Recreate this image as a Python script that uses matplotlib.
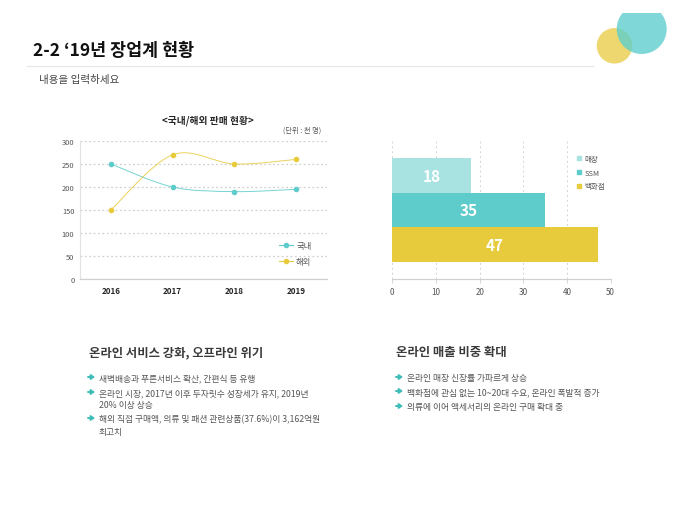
import matplotlib
matplotlib.use("Agg")
import matplotlib.pyplot as plt
from matplotlib.patches import Ellipse, PathPatch, Rectangle
from matplotlib.path import Path
from matplotlib.lines import Line2D

plt.rcParams['font.family'] = ['Noto Sans CJK KR', 'DejaVu Sans']

W, H = 680, 510
TEAL = '#5ecccb'
YELLOW = '#e8cb3c'
LIGHT = '#a8e2e1'
DARK = '#262626'
MID = '#555555'

years = ['2016', '2017', '2018', '2019']
domestic = [250, 200, 190, 195]
overseas = [150, 270, 250, 260]
line_ticks = [0, 50, 100, 150, 200, 250, 300]

bar_names = ['매장', 'SSM', '백화점']
bar_values = [18, 35, 47]
bar_ticks = [0, 10, 20, 30, 40, 50]

left_heading = '온라인 서비스 강화, 오프라인 위기'
left_bullets = [['새벽배송과 푸른서비스 확산, 간편식 등 유행'],
                ['온라인 시장, 2017년 이후 두자릿수 성장세가 유지, 2019년', '20% 이상 상승'],
                ['해외 직접 구매액, 의류 및 패션 관련상품(37.6%)이 3,162억원', '최고치']]
right_heading = '온라인 매출 비중 확대'
right_bullets = [['온라인 매장 신장률 가파르게 상승'],
                 ['백화점에 관심 없는 10~20대 수요, 온라인 폭발적 증가'],
                 ['의류에 이어 액세서리의 온라인 구매 확대 중']]


def px_axes(fig, x0, y0, x1, y1):
    return fig.add_axes([x0 / W, 1 - y1 / H, (x1 - x0) / W, (y1 - y0) / H])


def smooth(ax, xs, ys, color):
    # Catmull-Rom segments drawn as Bezier curves, as a spreadsheet's smoothed line
    verts = [(xs[0], ys[0])]
    codes = [Path.MOVETO]
    n = len(xs)
    for i in range(n - 1):
        p0 = i - 1 if i > 0 else i
        p3 = i + 2 if i + 2 < n else i + 1
        k = 1 / 6
        verts += [(xs[i] + (xs[i + 1] - xs[p0]) * k, ys[i] + (ys[i + 1] - ys[p0]) * k),
                  (xs[i + 1] - (xs[p3] - xs[i]) * k, ys[i + 1] - (ys[p3] - ys[i]) * k),
                  (xs[i + 1], ys[i + 1])]
        codes += [Path.CURVE4] * 3
    ax.add_patch(PathPatch(Path(verts, codes), fill=False, ec=color, lw=0.7, alpha=0.85, zorder=3))
    ax.plot(xs, ys, ls='none', marker='o', ms=3.0, color=color, zorder=4)


fig = plt.figure(figsize=(W / 100, H / 100), dpi=100, facecolor='white')

# page layer in pixel coordinates
bg = fig.add_axes([0, 0, 1, 1])
bg.set_xlim(0, W)
bg.set_ylim(H, 0)
bg.axis('off')
bg.add_patch(Ellipse((614.5, 46.8), 35.5, 35.5, fc='#eed76f', ec='none', zorder=1))
bg.add_patch(Ellipse((641.7, 30), 50, 50, fc='#5fcfcd', ec='none', alpha=0.8, zorder=2))
# the decoration is cut off flat at its top edge
bg.add_patch(Rectangle((600, 0), 80, 14, fc='white', ec='none', zorder=3))
bg.plot([27, 593], [66.5, 66.5], color='#e4e6ec', lw=0.8)
bg.text(33, 51.5, '2-2 ‘19년 장업계 현황', fontsize=12.5, fontweight='bold', color='#111111', va='center')
bg.text(39, 80.5, '내용을 입력하세요', fontsize=7.6, color='#444444', va='center')
bg.text(208, 121, '<국내/해외 판매 현황>', fontsize=7.0, fontweight='bold', color=DARK, ha='center', va='center')
bg.text(321, 130.5, '(단위 : 천 명)', fontsize=5.2, color=MID, ha='right', va='center')


def block(x_head, heading, x_arrow, x_text, rows, ys):
    bg.text(x_head, 353, heading, fontsize=8.9, fontweight='bold', color='#3a3a3a', va='center')
    i = 0
    for lines in rows:
        for j, line in enumerate(lines):
            if j == 0:
                bg.annotate('', xy=(x_arrow + 7, ys[i]), xytext=(x_arrow, ys[i]),
                            arrowprops=dict(arrowstyle='-|>,head_width=0.14,head_length=0.2',
                                            color='#3fbdb9', lw=1.4, shrinkA=0, shrinkB=0))
            bg.text(x_text, ys[i] + 0.5, line, fontsize=6.3, color=MID, va='center')
            i += 1


block(89, left_heading, 88, 99, left_bullets, [378, 393, 405, 419, 432])
block(396, right_heading, 396, 407, right_bullets, [378, 392, 407])

# line chart
ax = px_axes(fig, 80, 142, 327, 280)
ax.patch.set_alpha(0)
pos = list(range(len(years)))
ax.set_xlim(-0.5, 3.5)
ax.set_ylim(0, 300)
ax.yaxis.grid(True, ls=(0, (1.5, 2)), color='#d0d0d0', lw=0.9)
ax.set_axisbelow(True)
smooth(ax, pos, domestic, TEAL)
smooth(ax, pos, overseas, YELLOW)
ax.set_xticks(pos, years, fontsize=5.8, fontweight='bold', color=DARK)
ax.set_yticks(line_ticks, [str(t) for t in line_ticks], fontsize=5.4, color=MID)
ax.tick_params(length=0)
ax.tick_params(axis='y', pad=4)
ax.tick_params(axis='x', pad=5)
for s in ('top', 'right'):
    ax.spines[s].set_visible(False)
ax.spines['left'].set_color('#e2e2e2')
ax.spines['left'].set_linewidth(0.8)
ax.spines['bottom'].set_color('#d0d0d0')
ax.spines['bottom'].set_linewidth(0.9)
handles = [Line2D([], [], color=TEAL, lw=0.8, marker='o', ms=3.0),
           Line2D([], [], color=YELLOW, lw=0.8, marker='o', ms=3.0)]
ax.legend(handles, ['국내', '해외'], loc='center left',
          bbox_to_anchor=(279 / W, 1 - 254.5 / H), bbox_transform=fig.transFigure,
          frameon=False, fontsize=6, labelcolor=MID, labelspacing=0.8,
          handlelength=1.7, handletextpad=0.35, borderpad=0, borderaxespad=0)

# bar chart
bx = px_axes(fig, 392.3, 141.8, 610.7, 279.8)
bx.patch.set_alpha(0)
colors = [LIGHT, TEAL, YELLOW]
ypos = list(range(len(bar_names)))
bars = bx.barh(ypos, bar_values, height=1.0, color=colors, edgecolor='none', zorder=3)
bx.set_xlim(0, 50)
bx.set_ylim(3, -1)
bx.xaxis.grid(True, ls=(0, (2, 3)), color='#d4d4d4', lw=0.7)
bx.set_axisbelow(True)
for b, v in zip(bars, bar_values):
    bx.text(v / 2, b.get_y() + b.get_height() / 2 + 0.02, str(v), color='white', fontsize=11,
            fontweight='bold', ha='center', va='center', zorder=4)
bx.set_xticks(bar_ticks, [str(t) for t in bar_ticks], fontsize=5.8, color=MID)
bx.set_yticks([])
bx.tick_params(axis='x', length=3, width=0.6, color='#d0d0d0', pad=3, direction='out')
for s in ('top', 'right', 'left'):
    bx.spines[s].set_visible(False)
bx.spines['bottom'].set_color('#d0d0d0')
bx.spines['bottom'].set_linewidth(0.9)
bhandles = [Line2D([], [], ls='none', marker='s', ms=2.6, color=c) for c in colors]
bx.legend(bhandles, bar_names, loc='center left',
          bbox_to_anchor=(576 / W, 1 - 173.5 / H), bbox_transform=fig.transFigure,
          frameon=False, fontsize=5.4, labelcolor=MID, labelspacing=0.75,
          handlelength=0.9, handletextpad=0.2, borderpad=0, borderaxespad=0)

fig.savefig('out.png', dpi=100, facecolor='white')
